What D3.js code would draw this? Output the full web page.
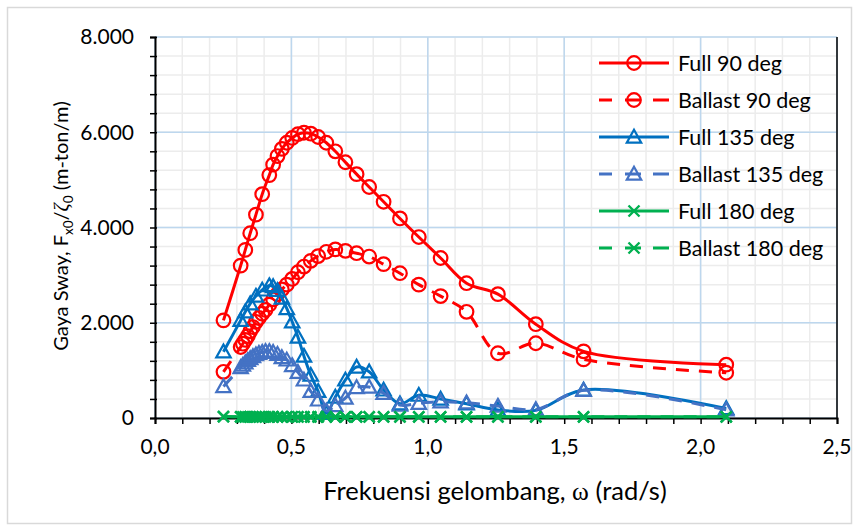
<!DOCTYPE html>
<html>
<head>
<meta charset="utf-8">
<script src="https://d3js.org/d3.v7.min.js"></script>
<style>
  body { margin: 0; background: #fff; }
  svg { font-family: Lato, "Open Sans", sans-serif; }
</style>
</head>
<body>
<div id="chart"></div>
<script>
// wave frequencies (rad/s)
var omegaFull = [0.251, 0.314, 0.331, 0.349, 0.370, 0.393, 0.419, 0.433, 0.449, 0.465,
                 0.483, 0.503, 0.524, 0.546, 0.571, 0.598, 0.628, 0.661, 0.698, 0.739,
                 0.785, 0.838, 0.898, 0.967, 1.047, 1.142, 1.257, 1.396, 1.571, 2.094];
var omegaBallast = [0.251, 0.314, 0.322, 0.331, 0.340, 0.349, 0.359, 0.370, 0.381, 0.393,
                    0.405, 0.419, 0.433, 0.449, 0.465, 0.483, 0.503, 0.524, 0.546, 0.571,
                    0.598, 0.628, 0.661, 0.698, 0.739, 0.785, 0.838, 0.898, 0.967, 1.047,
                    1.142, 1.257, 1.396, 1.571, 2.094];

// sway force amplitude (m-ton/m)
var full90 = [2050, 3200, 3530, 3880, 4270, 4700, 5100, 5320, 5500, 5650,
              5780, 5880, 5960, 5990, 5970, 5900, 5780, 5600, 5370, 5120,
              4850, 4540, 4190, 3800, 3360, 2830, 2600, 1970, 1400, 1120];
var ballast90 = [970, 1490, 1560, 1640, 1720, 1820, 1910, 2020, 2100, 2190,
                 2270, 2380, 2490, 2600, 2700, 2800, 2920, 3060, 3180, 3300,
                 3400, 3490, 3540, 3510, 3460, 3390, 3230, 3040, 2800, 2560,
                 2230, 1360, 1570, 1230, 950];
var full135 = [1390, 2050, 2230, 2400, 2560, 2690, 2780, 2760, 2680, 2520,
               2300, 2020, 1700, 1300, 900, 560, 100, 440, 800, 1070,
               970, 590, 300, 480, 400, 300, 170, 160, 590, 200];
var ballast135 = [660, 1060, 1110, 1160, 1210, 1250, 1290, 1330, 1360, 1380,
                  1400, 1400, 1380, 1340, 1270, 1220, 1100, 960, 800, 560,
                  380, 150, 260, 420, 640, 650, 520, 270, 310, 340,
                  320, 250, 180, 580, 170];
var full180 = [30, 25, 25, 25, 25, 25, 25, 25, 25, 25,
               25, 25, 25, 25, 25, 25, 25, 25, 25, 25,
               25, 25, 25, 25, 25, 25, 25, 25, 25, 25];
var ballast180 = [30, 25, 25, 25, 25, 25, 25, 25, 25, 25,
                  25, 25, 25, 25, 25, 25, 25, 25, 25, 25,
                  25, 25, 25, 25, 25, 25, 25, 25, 25, 25,
                  25, 25, 25, 25, 25];

var seriesNames = ["Full 90 deg", "Ballast 90 deg", "Full 135 deg", "Ballast 135 deg", "Full 180 deg", "Ballast 180 deg"];
var xTicks = [0, 0.5, 1.0, 1.5, 2.0, 2.5];
var yTicks = [0, 2000, 4000, 6000, 8000];

var series = [
  {name: seriesNames[0], x: omegaFull,    y: full90,     color: "#ff0000", dash: null,    marker: "circle"},
  {name: seriesNames[1], x: omegaBallast, y: ballast90,  color: "#ff0000", dash: "13,10", marker: "circle"},
  {name: seriesNames[2], x: omegaFull,    y: full135,    color: "#0070c0", dash: null,    marker: "triangle"},
  {name: seriesNames[3], x: omegaBallast, y: ballast135, color: "#4472c4", dash: "13,10", marker: "triangle"},
  {name: seriesNames[4], x: omegaFull,    y: full180,    color: "#00b050", dash: null,    marker: "cross"},
  {name: seriesNames[5], x: omegaBallast, y: ballast180, color: "#00b050", dash: "13,10", marker: "cross"}
];

var width = 862, height = 531,
    margin = {top: 37, right: 25, bottom: 113, left: 155},
    w = width - margin.left - margin.right,
    h = height - margin.top - margin.bottom;

var idLocale = d3.formatLocale({decimal: ",", thousands: ".", grouping: [3], currency: ["", ""]});
var fmtY = idLocale.format(",d"),
    fmtX = idLocale.format(".1f");

var x = d3.scaleLinear().domain([0, 2.5]).range([0, w]);
var y = d3.scaleLinear().domain([0, 8000]).range([h, 0]);

var svg = d3.select("#chart").append("svg")
    .attr("width", width)
    .attr("height", height);

// chart area border
svg.append("rect")
    .attr("x", 7.5).attr("y", 7.5)
    .attr("width", width - 18).attr("height", height - 15)
    .attr("fill", "#fff")
    .attr("stroke", "#d9d9d9")
    .attr("stroke-width", 1.5);

var g = svg.append("g")
    .attr("transform", "translate(" + margin.left + "," + margin.top + ")");

// minor grid
var xMinor = d3.range(0, 26).map(function(i) { return i / 10; });
var yMinor = d3.range(0, 21).map(function(i) { return i * 400; });

g.append("g").selectAll("line").data(xMinor).enter().append("line")
    .attr("x1", function(d) { return x(d); }).attr("x2", function(d) { return x(d); })
    .attr("y1", 0).attr("y2", h)
    .attr("stroke", "#ececec").attr("stroke-width", 1.5);
g.append("g").selectAll("line").data(yMinor).enter().append("line")
    .attr("x1", 0).attr("x2", w)
    .attr("y1", function(d) { return y(d); }).attr("y2", function(d) { return y(d); })
    .attr("stroke", "#ececec").attr("stroke-width", 1.5);

// major grid
g.append("g").selectAll("line").data(xTicks).enter().append("line")
    .attr("x1", function(d) { return x(d); }).attr("x2", function(d) { return x(d); })
    .attr("y1", 0).attr("y2", h)
    .attr("stroke", "#bdd7ee").attr("stroke-width", 1.5);
g.append("g").selectAll("line").data(yTicks).enter().append("line")
    .attr("x1", 0).attr("x2", w)
    .attr("y1", function(d) { return y(d); }).attr("y2", function(d) { return y(d); })
    .attr("stroke", "#bdd7ee").attr("stroke-width", 1.5);

// right border of plot
g.append("line")
    .attr("x1", w).attr("x2", w).attr("y1", 0).attr("y2", h)
    .attr("stroke", "#000").attr("stroke-width", 1.5);

// axes
var xAxis = g.append("g")
    .attr("transform", "translate(0," + h + ")")
    .call(d3.axisBottom(x).tickValues(xMinor).tickSize(6).tickFormat(""));
var yAxis = g.append("g")
    .call(d3.axisLeft(y).tickValues(yMinor).tickSize(5).tickFormat(""));

[xAxis, yAxis].forEach(function(a) {
  a.select(".domain").attr("stroke", "#000").attr("stroke-width", 2);
  a.selectAll(".tick line").attr("stroke", "#000").attr("stroke-width", 1.5);
});
yAxis.selectAll(".tick line").attr("x1", 2);

g.append("g").selectAll("text").data(xTicks).enter().append("text")
    .attr("x", function(d) { return x(d); })
    .attr("y", h + 29)
    .attr("dy", "0.35em")
    .attr("text-anchor", "middle")
    .attr("font-size", 21)
    .attr("fill", "#000")
    .text(function(d) { return fmtX(d); });

g.append("g").selectAll("text").data(yTicks).enter().append("text")
    .attr("x", -21)
    .attr("y", function(d) { return y(d); })
    .attr("dy", "0.35em")
    .attr("text-anchor", "end")
    .attr("font-size", 21)
    .attr("fill", "#000")
    .text(function(d) { return fmtY(d); });

// axis titles
var xt = svg.append("text")
    .attr("x", margin.left + w / 2 - 1)
    .attr("y", 500)
    .attr("text-anchor", "middle")
    .attr("font-size", 25.5)
    .attr("fill", "#000");
xt.append("tspan").text("Frekuensi gelombang, ");
xt.append("tspan").attr("font-family", "'Liberation Serif', serif").text("ω");
xt.append("tspan").text(" (rad/s)");

var yt = svg.append("text")
    .attr("transform", "translate(68,226) rotate(-90)")
    .attr("text-anchor", "middle")
    .attr("font-size", 20)
    .attr("fill", "#000");
yt.append("tspan").text("Gaya Sway, F");
yt.append("tspan").attr("font-size", 13.5).attr("dy", 5).text("x0");
yt.append("tspan").attr("dy", -5).text("/");
yt.append("tspan").attr("font-family", "'Liberation Serif', serif").attr("font-style", "italic").text("ζ");
yt.append("tspan").attr("font-size", 13.5).attr("dy", 5).text("0");
yt.append("tspan").attr("dy", -5).text(" (m-ton/m)");

// markers
function drawMarker(sel, type, color) {
  if (type === "circle") {
    sel.append("circle").attr("r", 6.8)
        .attr("fill", "none").attr("stroke", color).attr("stroke-width", 2.2);
  } else if (type === "triangle") {
    sel.append("path").attr("d", "M0,-7.2L7.2,5.6L-7.2,5.6Z")
        .attr("fill", "none").attr("stroke", color).attr("stroke-width", 2.2);
  } else {
    sel.append("path").attr("d", "M-5.5,-5.5L5.5,5.5M-5.5,5.5L5.5,-5.5")
        .attr("fill", "none").attr("stroke", color).attr("stroke-width", 2.4);
  }
}

var line = d3.line()
    .x(function(d) { return x(d[0]); })
    .y(function(d) { return y(d[1]); })
    .curve(d3.curveCatmullRom.alpha(0.5));

series.forEach(function(s) {
  var pts = s.x.map(function(v, i) { return [v, s.y[i]]; });
  var sg = g.append("g");
  sg.append("path")
      .attr("d", line(pts))
      .attr("fill", "none")
      .attr("stroke", s.color)
      .attr("stroke-width", 3)
      .attr("stroke-dasharray", s.dash);
  sg.selectAll("g.pt").data(pts).enter().append("g")
      .attr("class", "pt")
      .attr("transform", function(d) { return "translate(" + x(d[0]) + "," + y(d[1]) + ")"; })
      .each(function() { drawMarker(d3.select(this), s.marker, s.color); });
});

// legend
var legend = svg.append("g");
series.forEach(function(s, i) {
  var ly = 63 + i * 37;
  var lg = legend.append("g").attr("transform", "translate(0," + ly + ")");
  lg.append("line")
      .attr("x1", 599).attr("x2", 669)
      .attr("stroke", s.color).attr("stroke-width", 3)
      .attr("stroke-dasharray", s.dash ? "13,13,16,12,16" : null);
  drawMarker(lg.append("g").attr("transform", "translate(634,0)"), s.marker, s.color);
  lg.append("text")
      .attr("x", 678).attr("dy", "0.35em")
      .attr("font-size", 21.5)
      .attr("fill", "#000")
      .text(s.name);
});
</script>
</body>
</html>
